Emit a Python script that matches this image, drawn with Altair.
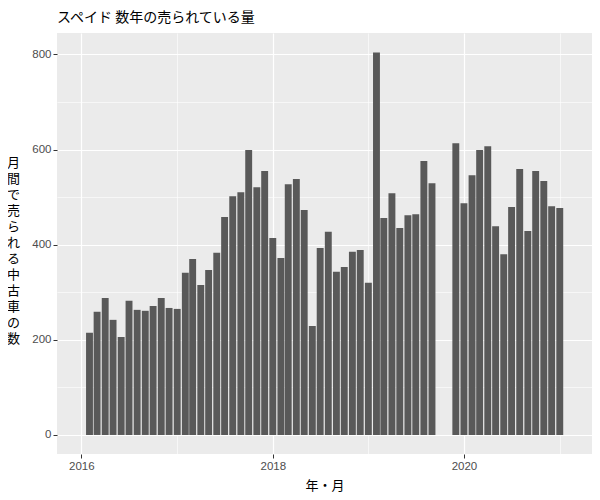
import altair as alt
import pandas as pd

months = [
    "2016-02-01", "2016-03-01", "2016-04-01", "2016-05-01", "2016-06-01", "2016-07-01",
    "2016-08-01", "2016-09-01", "2016-10-01", "2016-11-01", "2016-12-01", "2017-01-01",
    "2017-02-01", "2017-03-01", "2017-04-01", "2017-05-01", "2017-06-01", "2017-07-01",
    "2017-08-01", "2017-09-01", "2017-10-01", "2017-11-01", "2017-12-01", "2018-01-01",
    "2018-02-01", "2018-03-01", "2018-04-01", "2018-05-01", "2018-06-01", "2018-07-01",
    "2018-08-01", "2018-09-01", "2018-10-01", "2018-11-01", "2018-12-01", "2019-01-01",
    "2019-02-01", "2019-03-01", "2019-04-01", "2019-05-01", "2019-06-01", "2019-07-01",
    "2019-08-01", "2019-09-01", "2019-12-01", "2020-01-01", "2020-02-01", "2020-03-01",
    "2020-04-01", "2020-05-01", "2020-06-01", "2020-07-01", "2020-08-01", "2020-09-01",
    "2020-10-01", "2020-11-01", "2020-12-01", "2021-01-01",
]
sales = [
    215, 259, 288, 242, 206, 282, 263, 261, 271, 288, 267, 265,
    341, 370, 315, 347, 383, 458, 502, 510, 599, 521, 555, 414,
    372, 527, 538, 473, 229, 393, 427, 343, 353, 385, 389, 320,
    804, 456, 508, 435, 462, 464, 576, 529, 613, 487, 546, 599,
    607, 439, 380, 479, 559, 429, 555, 534, 481, 477,
]
year_ticks = [2016, 2017, 2018, 2019, 2020, 2021]
y_ticks = [0, 100, 200, 300, 400, 500, 600, 700, 800]
y_title = ["月", "間", "で", "売", "ら", "れ", "る", "中", "古", "車", "の", "数"]

df = pd.DataFrame({"month": months, "sales": sales})

num_font = "Liberation Sans"
jp_font = "Noto Sans CJK JP"

x_major = "utcyear(datum.value) % 2 == 0"
y_major = "datum.value % 200 == 0"

x_axis = alt.Axis(
    values=[alt.DateTime(year=y, month=1, date=1, utc=True) for y in year_ticks],
    labelExpr="utcyear(datum.value) % 2 == 0 ? utcFormat(datum.value, '%Y') : ''",
    labelFont=num_font, labelFontSize=11.5, labelColor="#4D4D4D", labelPadding=2,
    labelFlush=False, labelOverlap=False,
    gridColor="white",
    gridWidth={"condition": {"test": x_major, "value": 1.2}, "value": 0.6},
    tickColor="#333333", tickSize=4, tickWidth=1,
    tickOpacity={"condition": {"test": x_major, "value": 1}, "value": 0},
    domain=False,
    title="年・月", titleFont=jp_font, titleFontSize=13, titleFontWeight="normal",
    titleColor="black", titlePadding=8,
)

y_axis = alt.Axis(
    values=y_ticks,
    labelExpr="datum.value % 200 == 0 ? datum.label : ''",
    labelFont=num_font, labelFontSize=11.5, labelColor="#4D4D4D", labelPadding=2,
    labelOverlap=False,
    gridColor="white",
    gridWidth={"condition": {"test": y_major, "value": 1.2}, "value": 0.6},
    tickColor="#333333", tickSize=4, tickWidth=1,
    tickOpacity={"condition": {"test": y_major, "value": 1}, "value": 0},
    domain=False,
    title=y_title, titleFont=jp_font, titleFontSize=13, titleFontWeight="normal",
    titleColor="black", titleAngle=0, titleX=-44, titleY=129,
    titleAlign="center", titleBaseline="middle", titleLineHeight=16,
)

chart = (
    alt.Chart(df)
    .mark_bar(color="#595959", width=6.9)
    .encode(
        x=alt.X(
            "month:T",
            scale=alt.Scale(
                type="utc",
                domain=[
                    alt.DateTime(year=2015, month=10, date=19, utc=True),
                    alt.DateTime(year=2021, month=4, date=15, utc=True),
                ],
            ),
            axis=x_axis,
        ),
        y=alt.Y(
            "sales:Q",
            scale=alt.Scale(domain=[-40, 845], nice=False, zero=False),
            axis=y_axis,
        ),
        tooltip=["month:T", "sales:Q"],
    )
    .properties(
        width=535,
        height=421,
        title=alt.TitleParams(
            text="スペイド 数年の売られている量",
            anchor="start", frame="group", font=jp_font, fontSize=14,
            fontWeight="normal", color="black", offset=8,
        ),
        autosize=alt.AutoSizeParams(type="none"),
        padding={"left": 49, "top": 25, "right": 0, "bottom": 44},
        background="white",
    )
    .configure_view(fill="#EBEBEB", stroke=None)
)

chart.save("out.html", embed_options={"renderer": "svg", "actions": False})
